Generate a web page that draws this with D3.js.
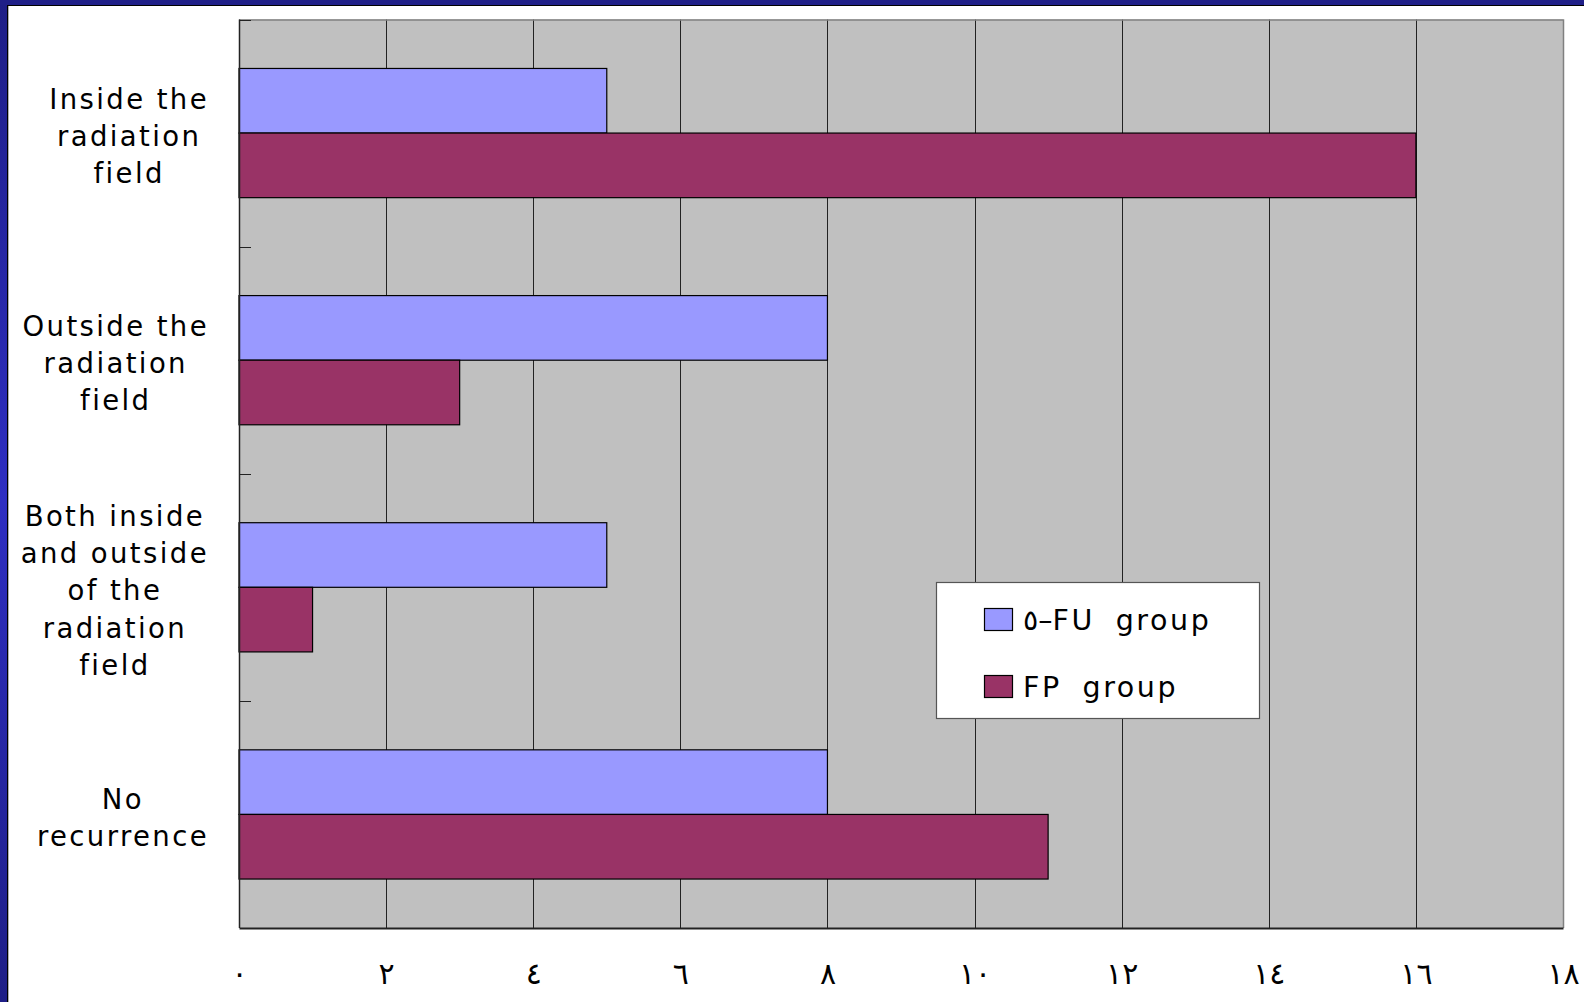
<!DOCTYPE html>
<html>
<head>
<meta charset="utf-8">
<script src="https://cdn.jsdelivr.net/npm/d3@7"></script>
<style>
  html, body { margin: 0; padding: 0; background: #ffffff; }
  svg { display: block; }
</style>
</head>
<body>
<svg id="chart" width="1584" height="1002"></svg>
<script>
// Recurrence site by treatment group
const categories = [
  ["Inside the", "radiation", "field"],
  ["Outside the", "radiation", "field"],
  ["Both inside", "and outside", "of the", "radiation", "field"],
  ["No", "recurrence"]
];
const seriesNames = ["٥–FU group", "FP group"];
const fuValues = [5, 8, 5, 8];
const fpValues = [16, 3, 1, 11];
const tickValues = [0, 2, 4, 6, 8, 10, 12, 14, 16, 18];
const tickLabels = ["٠", "٢", "٤", "٦", "٨", "١٠", "١٢", "١٤", "١٦", "١٨"];
const colors = ["#9999ff", "#993366"];

const svg = d3.select("#chart");
const W = 1584, H = 1002;

// slide frame: blue strip on the left and along the top
const defs = svg.append("defs");
const grad = defs.append("linearGradient").attr("id", "sideGrad")
  .attr("x1", 0).attr("y1", 0).attr("x2", 0).attr("y2", 1);
grad.append("stop").attr("offset", "0%").attr("stop-color", "#1e1e86");
grad.append("stop").attr("offset", "50%").attr("stop-color", "#2e2ec2");
grad.append("stop").attr("offset", "100%").attr("stop-color", "#1e1e86");

svg.append("rect").attr("x", 0).attr("y", 0).attr("width", W).attr("height", H).attr("fill", "#ffffff");
svg.append("rect").attr("x", 0).attr("y", 0).attr("width", 7).attr("height", H).attr("fill", "url(#sideGrad)");
svg.append("rect").attr("x", 0).attr("y", 0).attr("width", W).attr("height", 5).attr("fill", "#1f1f88");
svg.append("line").attr("x1", 7.5).attr("x2", 7.5).attr("y1", 5).attr("y2", H).attr("stroke", "#000").attr("stroke-width", 1);
svg.append("line").attr("x1", 8.5).attr("x2", 8.5).attr("y1", 6).attr("y2", H).attr("stroke", "#b0b0b0").attr("stroke-width", 1);
svg.append("line").attr("x1", 7).attr("x2", W).attr("y1", 5.5).attr("y2", 5.5).attr("stroke", "#000").attr("stroke-width", 1);

// plot area
const plot = { left: 239, top: 19.5, right: 1563, bottom: 928 };
const x = d3.scaleLinear().domain([0, 18]).range([plot.left, plot.right]);
const y = d3.scaleBand().domain(d3.range(categories.length)).range([plot.top, plot.bottom]).paddingInner(0).paddingOuter(0);
const barH = 64.6;
const barOffset = (y.bandwidth() - 2 * barH) / 2;

svg.append("rect")
  .attr("x", plot.left).attr("y", plot.top)
  .attr("width", plot.right - plot.left).attr("height", plot.bottom - plot.top)
  .attr("fill", "#c0c0c0");

// vertical gridlines
svg.append("g").selectAll("line")
  .data(tickValues.filter(v => v > 0 && v < 18))
  .join("line")
  .attr("x1", d => Math.round(x(d)) + 0.5).attr("x2", d => Math.round(x(d)) + 0.5)
  .attr("y1", plot.top).attr("y2", plot.bottom)
  .attr("stroke", "#222").attr("stroke-width", 1);

// plot border (top and right)
svg.append("path")
  .attr("d", `M${plot.left},${plot.top + 0.5}H${plot.right + 0.5}V${plot.bottom}`)
  .attr("fill", "none").attr("stroke", "#808080").attr("stroke-width", 1.5);

// bars
const rows = categories.map((c, i) => ({ i, fu: fuValues[i], fp: fpValues[i] }));
const gBars = svg.append("g");
gBars.selectAll("rect.fu").data(rows).join("rect").attr("class", "fu")
  .attr("x", x(0)).attr("y", d => y(d.i) + barOffset)
  .attr("width", d => x(d.fu) - x(0)).attr("height", barH)
  .attr("fill", colors[0]).attr("stroke", "#000").attr("stroke-width", 1.2);
gBars.selectAll("rect.fp").data(rows).join("rect").attr("class", "fp")
  .attr("x", x(0)).attr("y", d => y(d.i) + barOffset + barH)
  .attr("width", d => x(d.fp) - x(0)).attr("height", barH)
  .attr("fill", colors[1]).attr("stroke", "#000").attr("stroke-width", 1.2);

// category axis with inward tick marks at band edges
const yEdges = d3.range(categories.length + 1).map(i => plot.top + i * y.bandwidth());
svg.append("g").selectAll("line")
  .data(yEdges.slice(0, -1))
  .join("line")
  .attr("x1", plot.left).attr("x2", plot.left + 12)
  .attr("y1", d => Math.round(d) + 0.5).attr("y2", d => Math.round(d) + 0.5)
  .attr("stroke", "#222").attr("stroke-width", 1);
svg.append("line").attr("x1", plot.left + 0.5).attr("x2", plot.left + 0.5)
  .attr("y1", plot.top).attr("y2", plot.bottom)
  .attr("stroke", "#222").attr("stroke-width", 1.5);

// value axis
const xAxis = d3.axisBottom(x).tickValues(tickValues)
  .tickFormat((d, i) => tickLabels[i]).tickSize(0).tickPadding(0);
const gx = svg.append("g").attr("transform", `translate(0,${plot.bottom})`).call(xAxis);
gx.select(".domain").attr("stroke", "#222").attr("stroke-width", 2);
gx.selectAll("text")
  .attr("y", 56).attr("dy", null)
  .attr("font-family", "'DejaVu Sans', sans-serif")
  .attr("font-size", 30).attr("fill", "#000");

// category labels: wrapped lines centred in a block right-aligned to the axis
const labelFont = "'DejaVu Sans', sans-serif";
const lineH = 37.2;
const rightEdge = 209;
categories.forEach((lines, i) => {
  const cy = y(i) + y.bandwidth() / 2 + 3;
  const g = svg.append("g");
  const texts = g.selectAll("text").data(lines).join("text")
    .attr("font-family", labelFont).attr("font-size", 27.5)
    .attr("letter-spacing", 2.4)
    .attr("text-anchor", "middle").attr("fill", "#000")
    .attr("dominant-baseline", "central")
    .attr("y", (d, k) => cy + (k - (lines.length - 1) / 2) * lineH)
    .text(d => d);
  let maxW = 0;
  texts.each(function () { maxW = Math.max(maxW, this.getComputedTextLength()); });
  texts.attr("x", rightEdge - maxW / 2);
});

// legend
const lg = svg.append("g");
lg.append("rect").attr("x", 936.5).attr("y", 582.5).attr("width", 323).attr("height", 136)
  .attr("fill", "#ffffff").attr("stroke", "#555").attr("stroke-width", 1.2);
seriesNames.forEach((name, i) => {
  const yy = 608.5 + i * 67;
  lg.append("rect").attr("x", 984.5).attr("y", yy).attr("width", 28).attr("height", 22)
    .attr("fill", colors[i]).attr("stroke", "#000").attr("stroke-width", 1.2);
  lg.append("text").attr("x", 1023).attr("y", yy + 12)
    .attr("dominant-baseline", "central")
    .attr("font-family", labelFont).attr("font-size", 28.5)
    .attr("letter-spacing", 2.6).attr("word-spacing", 9)
    .attr("fill", "#000")
    .text(name);
});
</script>
</body>
</html>
